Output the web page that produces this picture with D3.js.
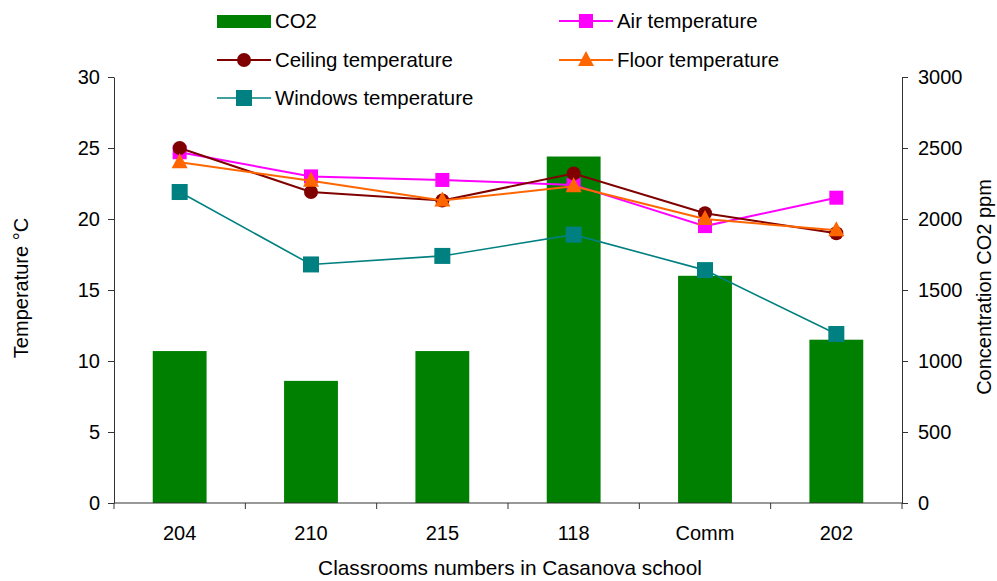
<!DOCTYPE html>
<html>
<head>
<meta charset="utf-8">
<script src="https://cdn.jsdelivr.net/npm/d3@7"></script>
<style>
  html, body { margin: 0; padding: 0; background: #fff; }
  svg { display: block; font-family: "Liberation Sans", Arial, sans-serif; }
</style>
</head>
<body>
<svg id="chart" width="997" height="581"></svg>
<script>
// Classrooms and measured values
const classrooms = ["204", "210", "215", "118", "Comm", "202"];
const co2 = [1070, 860, 1070, 2440, 1600, 1150];
const airTemp = [24.7, 23.0, 22.75, 22.4, 19.5, 21.5];
const ceilingTemp = [25.0, 21.9, 21.3, 23.2, 20.4, 19.0];
const floorTemp = [24.0, 22.7, 21.3, 22.3, 20.0, 19.2];
const windowsTemp = [21.9, 16.8, 17.4, 18.9, 16.4, 11.9];
const tempTicks = [0, 5, 10, 15, 20, 25, 30];
const co2Ticks = [0, 500, 1000, 1500, 2000, 2500, 3000];

(function () {
const svg = d3.select("#chart");
const plotLeft = 114, plotRight = 902, plotTop = 77, plotBottom = 503;
const fs = 20;

const x = d3.scaleBand().domain(classrooms).range([plotLeft, plotRight]).paddingInner(0.59).paddingOuter(0.295);
const xOuter = d3.scaleBand().domain(classrooms).range([plotLeft, plotRight]);
const yT = d3.scaleLinear().domain([0, 30]).range([plotBottom, plotTop]);
const yC = d3.scaleLinear().domain([0, 3000]).range([plotBottom, plotTop]);

// CO2 bars
svg.append("g").selectAll("rect").data(co2).join("rect")
  .attr("x", (d, i) => x(classrooms[i]))
  .attr("width", x.bandwidth())
  .attr("y", d => yC(d))
  .attr("height", d => plotBottom - yC(d))
  .attr("fill", "#008000");

// Axes
const axisColor = "#333";
const yLeft = svg.append("g").attr("transform", `translate(${plotLeft},0)`)
  .call(d3.axisLeft(yT).tickValues(tempTicks).tickSize(6).tickPadding(8).tickSizeOuter(0));
const yRight = svg.append("g").attr("transform", `translate(${plotRight},0)`)
  .call(d3.axisRight(yC).tickValues(co2Ticks).tickFormat(d3.format("d"))
    .tickSize(6).tickPadding(10).tickSizeOuter(0));
const xAxis = svg.append("g").attr("transform", `translate(0,${plotBottom})`);
xAxis.append("line").attr("x1", plotLeft).attr("x2", plotRight).attr("y1", 0).attr("y2", 0)
  .attr("stroke", axisColor);
const bounds = classrooms.map(c => xOuter(c)).concat([plotRight]);
xAxis.selectAll("line.tick").data(bounds).join("line").attr("class", "tick")
  .attr("x1", d => d).attr("x2", d => d).attr("y1", 0).attr("y2", 6).attr("stroke", axisColor);
xAxis.selectAll("text").data(classrooms).join("text")
  .attr("x", d => xOuter(d) + xOuter.bandwidth() / 2)
  .attr("y", 37)
  .attr("text-anchor", "middle")
  .attr("font-size", fs)
  .attr("fill", "#000")
  .text(d => d);

[yLeft, yRight].forEach(g => {
  g.select(".domain").attr("stroke", axisColor);
  g.selectAll(".tick line").attr("stroke", axisColor);
  g.selectAll(".tick text").attr("font-size", fs).attr("fill", "#000")
    .attr("font-family", "Liberation Sans, Arial, sans-serif");
});

// Axis titles
svg.append("text").attr("x", 510).attr("y", 575)
  .attr("text-anchor", "middle").attr("font-size", 20.8).text("Classrooms numbers in Casanova school");
svg.append("text").attr("transform", "translate(28,288) rotate(-90)")
  .attr("text-anchor", "middle").attr("font-size", fs).text("Temperature °C");
svg.append("text").attr("transform", "translate(991,287) rotate(-90)")
  .attr("text-anchor", "middle").attr("font-size", fs).text("Concentration CO2 ppm");

// Marker drawing
function marker(g, type, color, cx, cy) {
  if (type === "square") {
    g.append("rect").attr("x", cx - 7).attr("y", cy - 7).attr("width", 14).attr("height", 14).attr("fill", color);
  } else if (type === "bigsquare") {
    g.append("rect").attr("x", cx - 8).attr("y", cy - 8).attr("width", 16).attr("height", 16).attr("fill", color);
  } else if (type === "circle") {
    g.append("circle").attr("cx", cx).attr("cy", cy).attr("r", 7).attr("fill", color);
  } else if (type === "triangle") {
    g.append("path").attr("d", `M${cx},${cy - 9}L${cx + 8},${cy + 6}L${cx - 8},${cy + 6}Z`).attr("fill", color);
  }
}

const series = [
  { name: "Windows temperature", values: windowsTemp, color: "#008080", type: "bigsquare", w: 1.6 },
  { name: "Air temperature", values: airTemp, color: "#FF00FF", type: "square", w: 2 },
  { name: "Ceiling temperature", values: ceilingTemp, color: "#800000", type: "circle", w: 2 },
  { name: "Floor temperature", values: floorTemp, color: "#FF6600", type: "triangle", w: 2 },
];

const cx = c => xOuter(c) + xOuter.bandwidth() / 2;
const line = d3.line().x((d, i) => cx(classrooms[i])).y(d => yT(d));

series.forEach(s => {
  const g = svg.append("g");
  g.append("path").datum(s.values).attr("d", line).attr("fill", "none")
    .attr("stroke", s.color).attr("stroke-width", s.w);
  s.values.forEach((v, i) => marker(g, s.type, s.color, cx(classrooms[i]), yT(v)));
});

// Legend
const legend = svg.append("g");
const legendItems = [
  { name: "CO2", x: 217, y: 21, kind: "bar", color: "#008000" },
  { name: "Ceiling temperature", x: 217, y: 60, kind: "circle", color: "#800000", w: 2 },
  { name: "Windows temperature", x: 217, y: 98, kind: "bigsquare", color: "#008080", w: 1.6 },
  { name: "Air temperature", x: 559, y: 21, kind: "square", color: "#FF00FF", w: 2 },
  { name: "Floor temperature", x: 559, y: 60, kind: "triangle", color: "#FF6600", w: 2 },
];
legendItems.forEach(it => {
  if (it.kind === "bar") {
    legend.append("rect").attr("x", it.x).attr("y", it.y - 6).attr("width", 54).attr("height", 13).attr("fill", it.color);
  } else {
    legend.append("line").attr("x1", it.x).attr("x2", it.x + 54).attr("y1", it.y).attr("y2", it.y)
      .attr("stroke", it.color).attr("stroke-width", it.w);
    marker(legend, it.kind, it.color, it.x + 27, it.y);
  }
  legend.append("text").attr("x", it.x + 58).attr("y", it.y + 7).attr("font-size", 20.4).text(it.name);
});
})();
</script>
</body>
</html>
